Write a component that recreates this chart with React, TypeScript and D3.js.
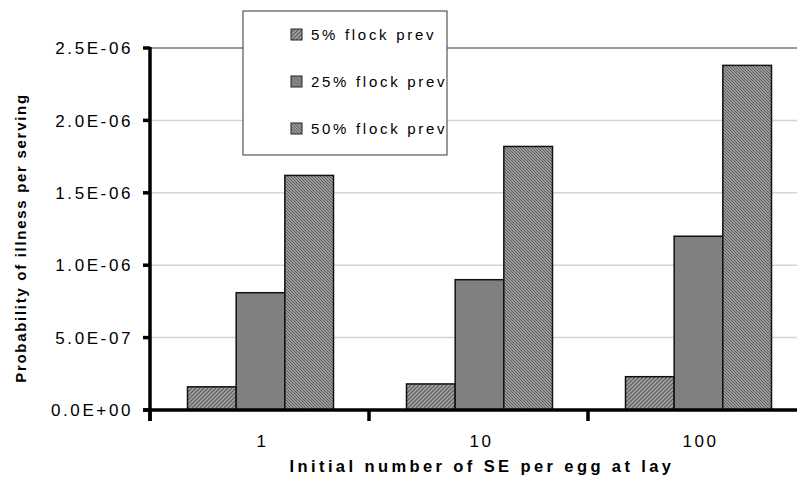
import React from "react";
import * as d3 from "d3";

const categories = ["1", "10", "100"];
const seriesNames = ["5% flock prev", "25% flock prev", "50% flock prev"];
const values5 = [1.6e-7, 1.8e-7, 2.3e-7];
const values25 = [8.1e-7, 9.0e-7, 1.2e-6];
const values50 = [1.62e-6, 1.82e-6, 2.38e-6];
const yTicks = [0, 5e-7, 1e-6, 1.5e-6, 2e-6, 2.5e-6];
const yTickLabels = ["0.0E+00", "5.0E-07", "1.0E-06", "1.5E-06", "2.0E-06", "2.5E-06"];

const W = 797;
const H = 481;
const FONT = "'Liberation Sans', Arial, sans-serif";

export default function App() {
  const x0 = 150;
  const band = 219;
  const x = d3
    .scaleBand<string>()
    .domain(categories)
    .range([x0, x0 + band * categories.length])
    .paddingInner(0)
    .paddingOuter(0);
  const groupW = 146;
  const xs = d3
    .scaleBand<number>()
    .domain([0, 1, 2])
    .range([(x.bandwidth() - groupW) / 2 + 1, (x.bandwidth() + groupW) / 2 + 1])
    .padding(0);
  const y = d3.scaleLinear().domain([0, 2.5e-6]).range([410, 48]);
  const series = [values5, values25, values50];
  const fills = ["url(#pat1)", "#808080", "url(#pat3)"];
  const boundaries = d3.range(categories.length + 1).map((i) => x0 + i * band);

  return (
    <svg width={W} height={H} style={{ position: "absolute", left: 0, top: 0 }}>
      <defs>
        <pattern id="pat1" width="4" height="4" patternUnits="userSpaceOnUse">
          <rect width="4" height="4" fill="#a2a2a2" />
          <path d="M-1,1 l2,-2 M0,4 l4,-4 M3,5 l2,-2" stroke="#5a5a5a" strokeWidth="1.2" />
        </pattern>
        <pattern id="pat3" width="3" height="3" patternUnits="userSpaceOnUse">
          <rect width="3" height="3" fill="#9a9a9a" />
          <path d="M-1,2 l2,2 M0,0 l3,3 M2,-1 l2,2" stroke="#5e5e5e" strokeWidth="1" />
        </pattern>
      </defs>
      <rect width={W} height={H} fill="#fff" />
      {/* gridlines */}
      {yTicks.slice(1).map((t, i) => (
        <line
          key={"g" + i}
          x1={x0}
          x2={W}
          y1={y(t)}
          y2={y(t)}
          stroke={t === 2.5e-6 ? "#9a9a9a" : "#d4d4d4"}
          strokeWidth={t === 2.5e-6 ? 2 : 1.5}
        />
      ))}
      {/* bars */}
      {categories.map((c, ci) =>
        series.map((s, si) => (
          <rect
            key={c + si}
            x={(x(c) as number) + (xs(si) as number)}
            y={y(s[ci])}
            width={xs.bandwidth()}
            height={y(0) - y(s[ci])}
            fill={fills[si]}
            stroke="#111"
            strokeWidth={1.5}
          />
        ))
      )}
      {/* axes */}
      <line x1={x0} x2={x0} y1={y(2.5e-6) - 1} y2={421} stroke="#000" strokeWidth={3.5} />
      <line x1={143} x2={W} y1={y(0)} y2={y(0)} stroke="#000" strokeWidth={3.5} />
      {yTicks.map((t, i) => (
        <g key={"yt" + i}>
          <line x1={143} x2={x0} y1={y(t)} y2={y(t)} stroke="#000" strokeWidth={3.5} />
          <text
            x={133}
            y={y(t)}
            dy="0.36em"
            textAnchor="end"
            fontFamily={FONT}
            fontSize={17}
            letterSpacing={2.6}
            fill="#000"
          >
            {yTickLabels[i]}
          </text>
        </g>
      ))}
      {boundaries.map((b, i) => (
        <line key={"xt" + i} x1={b} x2={b} y1={y(0)} y2={421} stroke="#000" strokeWidth={3.5} />
      ))}
      {categories.map((c) => (
        <text
          key={"xl" + c}
          x={(x(c) as number) + x.bandwidth() / 2 + 3}
          y={447}
          textAnchor="middle"
          fontFamily={FONT}
          fontSize={17}
          letterSpacing={2.5}
          fill="#000"
        >
          {c}
        </text>
      ))}
      <text
        x={482}
        y={472}
        textAnchor="middle"
        fontFamily={FONT}
        fontSize={16.5}
        fontWeight="bold"
        letterSpacing={3.4}
        fill="#000"
      >
        Initial number of SE per egg at lay
      </text>
      <text
        transform={`translate(26,238) rotate(-90)`}
        textAnchor="middle"
        fontFamily={FONT}
        fontSize={15}
        fontWeight="bold"
        letterSpacing={1.7}
        fill="#000"
      >
        Probability of illness per serving
      </text>
      {/* legend */}
      <rect x={243} y={11} width={204} height={144} fill="#fff" stroke="#555" strokeWidth={1.2} />
      {seriesNames.map((n, i) => (
        <g key={"lg" + i} transform={`translate(291, ${29 + i * 47})`}>
          <rect width={11} height={11} fill={fills[i]} stroke="#222" strokeWidth={1} />
          <text
            x={20}
            y={10.5}
            fontFamily={FONT}
            fontSize={15}
            letterSpacing={2.7}
            fill="#000"
          >
            {n}
          </text>
        </g>
      ))}
    </svg>
  );
}
